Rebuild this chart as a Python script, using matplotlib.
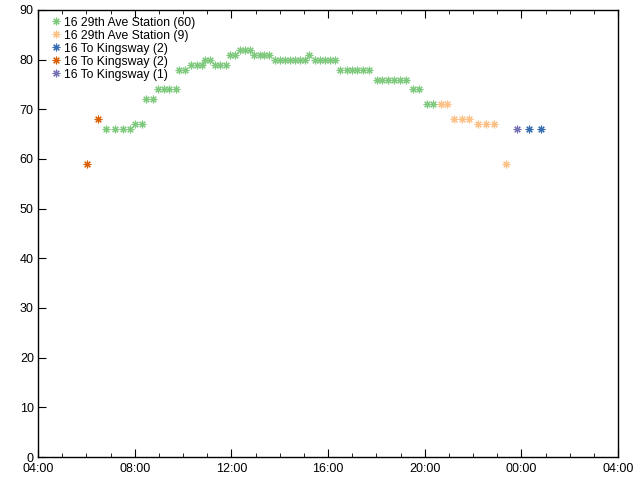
import datetime as dt
import matplotlib
matplotlib.use("Agg")
import matplotlib.pyplot as plt
import matplotlib.dates as mdates

plt.rcParams['font.family'] = ['Liberation Sans', 'DejaVu Sans']

# series: arrival times and values
labels = ["16 29th Ave Station (60)", "16 29th Ave Station (9)",
          "16 To Kingsway (2)", "16 To Kingsway (2)", "16 To Kingsway (1)"]
colors = ["#7fc97f", "#fdc086", "#386cb0", "#d95f02", "#7570b3"]

green_t = ["06:50", "07:12", "07:31", "07:49", "08:02", "08:19", "08:28", "08:45",
           "08:59", "09:14", "09:26", "09:42", "09:51", "10:05", "10:21", "10:34",
           "10:46", "10:55", "11:08", "11:19", "11:32", "11:48", "11:57", "12:09",
           "12:21", "12:34", "12:46", "12:56", "13:10", "13:21", "13:34", "13:49",
           "14:01", "14:13", "14:26", "14:38", "14:51", "15:03", "15:14", "15:28",
           "15:40", "15:53", "16:05", "16:17", "16:30", "16:46", "16:59", "17:13",
           "17:28", "17:43", "18:01", "18:15", "18:30", "18:44", "18:59", "19:13",
           "19:32", "19:47", "20:05", "20:21"]
green_v = [66, 66, 66, 66, 67, 67, 72, 72,
           74, 74, 74, 74, 78, 78, 79, 79,
           79, 80, 80, 79, 79, 79, 81, 81,
           82, 82, 82, 81, 81, 81, 81, 80,
           80, 80, 80, 80, 80, 80, 81, 80,
           80, 80, 80, 80, 78, 78, 78, 78,
           78, 78, 76, 76, 76, 76, 76, 76,
           74, 74, 71, 71]

lorange_t = ["20:40", "20:55", "21:13", "21:32", "21:51", "22:13", "22:32", "22:52", "23:22"]
lorange_v = [71, 71, 68, 68, 68, 67, 67, 67, 59]

blue_t = ["00:20", "00:49"]
blue_v = [66, 66]

dorange_t = ["06:02", "06:30"]
dorange_v = [59, 68]

purple_t = ["23:50"]
purple_v = [66]

base = dt.datetime(2020, 1, 1)


def to_dt(times):
    out = []
    for s in times:
        h, m = map(int, s.split(":"))
        d = base + dt.timedelta(hours=h, minutes=m)
        if h < 4:
            d += dt.timedelta(days=1)
        out.append(d)
    return out


series = [(green_t, green_v), (lorange_t, lorange_v), (blue_t, blue_v),
          (dorange_t, dorange_v), (purple_t, purple_v)]

fig = plt.figure(figsize=(6.4, 4.8), dpi=100)
ax = fig.add_axes([38/640, 1 - 457/480, 580/640, 447/480])

for (t, v), lab, c in zip(series, labels, colors):
    ax.plot(to_dt(t), v, linestyle="none", marker=(8, 2, 0), ms=5.5, mew=0.8,
            color=c, label=lab)

ax.set_xlim(base + dt.timedelta(hours=4), base + dt.timedelta(hours=28))
ax.set_ylim(0, 90)
ax.xaxis.set_major_locator(mdates.HourLocator(byhour=[0, 4, 8, 12, 16, 20]))
ax.xaxis.set_minor_locator(mdates.HourLocator())
ax.xaxis.set_major_formatter(mdates.DateFormatter("%H:%M"))
ax.set_yticks(range(0, 91, 10))

ax.tick_params(axis="x", which="major", direction="in", length=6, top=True,
               labelsize=9, pad=4)
ax.tick_params(axis="x", which="minor", direction="in", length=3, top=True)
ax.tick_params(axis="y", direction="in", length=6, right=False, labelsize=9, pad=3)
for sp in ax.spines.values():
    sp.set_linewidth(1)

ax.legend(loc="upper left", bbox_to_anchor=(0.006, 1.0), frameon=False,
          fontsize=8.8, handletextpad=0.1, labelspacing=0.08, borderaxespad=0.3,
          handlelength=1.2, borderpad=0.25)

fig.savefig("out.png", dpi=100)
